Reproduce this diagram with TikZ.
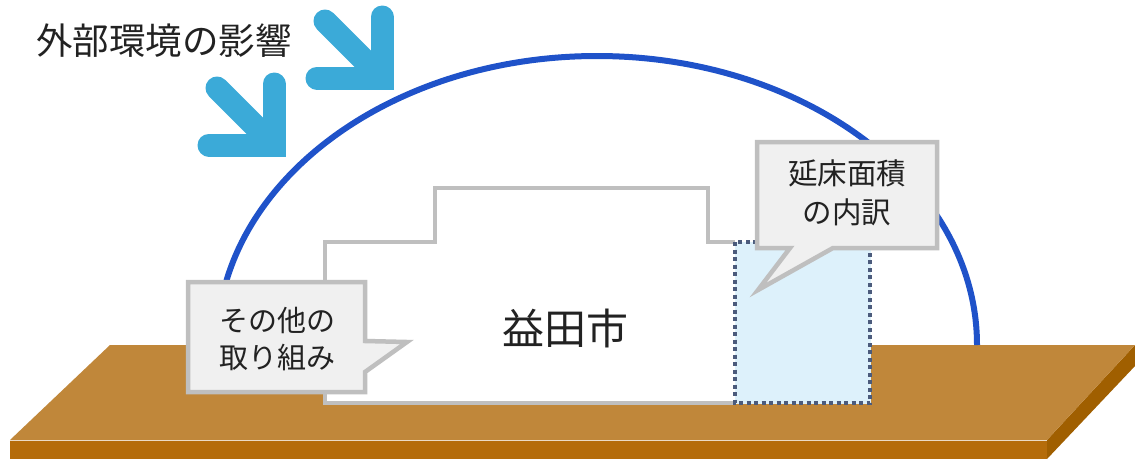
\documentclass[tikz,border=0pt]{standalone}
\usepackage{fontspec}
\newfontfamily\jp{Noto Sans CJK JP}
\definecolor{slabtop}{HTML}{C0873A}
\definecolor{slabfront}{HTML}{B56C0A}
\definecolor{slabside}{HTML}{A05F00}
\definecolor{arcblue}{HTML}{1F52C9}
\definecolor{arrowcyan}{HTML}{3BAAD8}
\definecolor{boxgray}{HTML}{BFBFBF}
\definecolor{calloutfill}{HTML}{F0F0F0}
\definecolor{areafill}{HTML}{DDF1FB}
\definecolor{dotline}{HTML}{4B5B7C}
\definecolor{textdark}{HTML}{222222}
\tikzset{
  calloutshape/.style={fill=calloutfill, draw=boxgray, line width=4.5pt, line join=miter},
  bldg/.style={fill=white, draw=boxgray, line width=4.5pt, line join=miter},
  shaft/.style={draw=arrowcyan, line width=23pt, line cap=round},
  arms/.style={draw=arrowcyan, line width=23pt, line cap=round, line join=miter},
  label/.style={text=textdark, font=\jp, align=center, inner sep=0pt},
}
\begin{document}
\begin{tikzpicture}[x=1pt,y=-1pt]
\useasboundingbox (0,0) rectangle (1135,459);
% ground slab
\fill[slabfront] (10,440) -- (1047,440) -- (1047,459) -- (10,459) -- cycle;
\fill[slabside] (1047,440) -- (1135,345) -- (1135,366) -- (1047,459) -- cycle;
\fill[slabtop] (110,345) -- (1135,345) -- (1047,440) -- (10,440) -- cycle;
\draw[white!70!slabtop, line width=1pt] (10,440.5) -- (1047,440.5);
% dome
\draw[arcblue, line width=6pt] (217,345) arc[start angle=180, end angle=360, x radius=380, y radius=289];
% building
\path[bldg] (735,403) -- (325,403) -- (325,242) -- (435,242) -- (435,188) -- (708,188) -- (708,242) -- (735,242);
\fill[white] (327,244) rectangle (735,401);
\draw[areafill, fill=areafill] (735,242) rectangle (870,403);
\draw[dotline, line width=4pt, dash pattern=on 4pt off 3.5pt] (735,242) rectangle (870,403);
% callouts
\path[calloutshape] (188,282) -- (365,282) -- (365,341) -- (407,342) -- (365,372) -- (365,392) -- (188,392) -- cycle;
\path[calloutshape] (757,142) -- (937,142) -- (937,248) -- (833,248) -- (758,290) -- (790,248) -- (757,248) -- cycle;
% arrows
\foreach \cx/\cy in {274/145, 382/78} {
  \draw[shaft] (\cx-57,\cy-57) -- (\cx,\cy);
  \draw[arms] (\cx-65,\cy) -- (\cx,\cy) -- (\cx,\cy-61);
}
% texts
\node[label, font=\jp\fontsize{36.5}{40}\selectfont] (title) at (164,41) {外部環境の影響};
\node[label, font=\jp\fontsize{42}{48}\selectfont] (city) at (565,328) {益田市};
\node[label, font=\jp\fontsize{29}{37}\selectfont] (other) at (277,339) {その他の\\取り組み};
\node[label, font=\jp\fontsize{29.5}{39}\selectfont] (floor) at (847,193) {延床面積\\の内訳};
\end{tikzpicture}
\end{document}
